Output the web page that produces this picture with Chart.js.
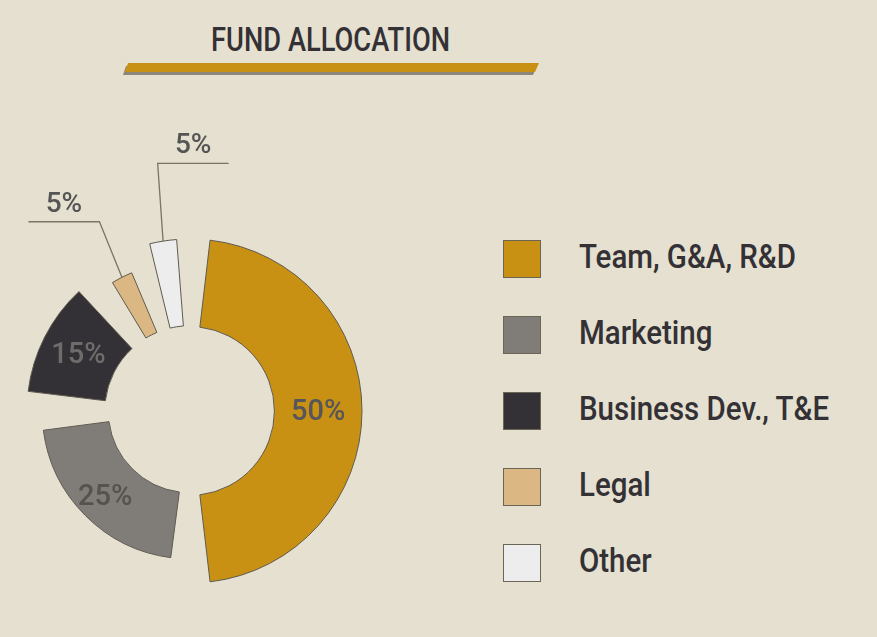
<!DOCTYPE html>
<html>
<head>
<meta charset="utf-8">
<script src="https://cdn.jsdelivr.net/npm/chart.js@4/dist/chart.umd.min.js"></script>
<style>
  html, body { margin:0; padding:0; width:877px; height:637px; background:#E5E0CF; overflow:hidden; }
  #wrap { position:relative; width:877px; height:637px; background:#E5E0CF; }
  .cond { font-family:Roboto,"Liberation Sans",sans-serif; font-weight:500; }
  #title { position:absolute; left:0; top:20px; width:662px; text-align:center; font-size:33px; color:#333135; line-height:40px; }
  #title span { display:inline-block; transform-origin:50% 50%; }
  #barShadow { position:absolute; left:0; top:0; width:877px; height:100px; background:#8C877B;
    clip-path: polygon(126px 66px, 537px 66px, 533px 75px, 123px 75px); }
  #bar { position:absolute; left:0; top:0; width:877px; height:100px; background:#C99114;
    clip-path: polygon(128px 63px, 539px 63px, 535px 72px, 125px 72px); }
  #chartBox { position:absolute; left:0; top:0; width:480px; height:637px; }
  #legend { position:absolute; left:503px; top:240px; }
  .item { display:flex; align-items:center; height:38px; margin-bottom:38px; }
  .box { width:36px; height:36px; border:1px solid #6b6556; flex:none; }
  .lbl { margin-left:38px; font-size:33px; color:#333135; white-space:nowrap; line-height:38px; transform-origin:0 50%; margin-top:-4px; }
</style>
</head>
<body>
<div id="wrap">
  <div id="title" class="cond"><span id="titleText">FUND ALLOCATION</span></div>
  <div id="barShadow"></div>
  <div id="bar"></div>
  <div id="chartBox"><canvas id="c"></canvas></div>
  <div id="legend"></div>
</div>
<script>
// ---- data ----
const categories = ['Team, G&A, R&D', 'Marketing', 'Business Dev., T&E', 'Legal', 'Other'];
const shares = [50, 25, 15, 5, 5];

// ---- style ----
const sliceColors = ['#C99114', '#807C78', '#333135', '#DBB883', '#EDEDED'];
const labelColors = ['#55555A', '#55524F', '#6F6C6B', '#555555', '#555555'];
const outerScale = [1, 0.86, 0.948, 0.872, 1];      // relative to library outer radius
const innerScale = [1, 0.968, 1.01, 1.01, 1.01];     // relative to library inner radius
const sliceGap = [15, 15, 15, 10, 10];               // px trimmed each side at mid radius
const labelMode = ['inside', 'inside', 'inside', 'callout', 'callout'];
const labelRadiusShift = [0, 5, 1, 0, 0];            // px beyond mid radius for inside labels
const leaderLen = [0, 0, 0, 60, 78];
const leaderDir = [0, 0, 0, -1, 1];

// legend (HTML, built from arrays)
const legendEl = document.getElementById('legend');
const lblEls = [];
categories.forEach((c, i) => {
  const it = document.createElement('div'); it.className = 'item';
  const b = document.createElement('div'); b.className = 'box'; b.style.background = sliceColors[i];
  const t = document.createElement('div'); t.className = 'lbl cond'; t.textContent = c;
  it.appendChild(b); it.appendChild(t); legendEl.appendChild(it);
  lblEls.push(t);
});
// condense text to the reference's narrow face
const condense = () => {
  const tt = document.getElementById('titleText');
  const ts = 239 / tt.getBoundingClientRect().width;
  tt.style.transform = 'scaleX(' + ts + ')';
  const ls = 217 / lblEls[0].getBoundingClientRect().width;
  lblEls.forEach(e => { e.style.transform = 'scaleX(' + ls + ')'; });
};
condense();

const sliceGeometry = {
  id: 'sliceGeometry',
  afterDatasetsUpdate(chart) {
    const meta = chart.getDatasetMeta(0);
    meta.data.forEach((el, i) => {
      const outer = el.outerRadius * outerScale[i];
      const inner = el.innerRadius * innerScale[i];
      const mid = (el.startAngle + el.endAngle) / 2;
      const half = (el.endAngle - el.startAngle) / 2 - sliceGap[i] / ((outer + inner) / 2);
      el.outerRadius = outer;
      el.innerRadius = inner;
      el.startAngle = mid - half;
      el.endAngle = mid + half;
      el.circumference = 2 * half;
    });
  }
};

const sliceLabels = {
  id: 'sliceLabels',
  afterDatasetsDraw(chart) {
    const ctx = chart.ctx;
    const meta = chart.getDatasetMeta(0);
    ctx.save();
    ctx.textAlign = 'center';
    ctx.textBaseline = 'middle';
    meta.data.forEach((el, i) => {
      const text = shares[i] + '%';
      ctx.fillStyle = labelColors[i];
      const mid = (el.startAngle + el.endAngle) / 2;
      if (labelMode[i] === 'inside') {
        ctx.font = '500 29px Roboto';
        const p = el.tooltipPosition();
        ctx.fillText(text, p.x + Math.cos(mid) * labelRadiusShift[i], p.y + Math.sin(mid) * labelRadiusShift[i] + 2);
      } else {
        ctx.font = '500 28px Roboto';
        const x0 = el.x + Math.cos(mid) * el.outerRadius;
        const y0 = el.y + Math.sin(mid) * el.outerRadius;
        const a = mid + 5 * Math.PI / 180;
        const x1 = x0 + Math.cos(a) * leaderLen[i];
        const y1 = y0 + Math.sin(a) * leaderLen[i];
        const x2 = x1 + leaderDir[i] * 71;
        ctx.strokeStyle = '#7A7466';
        ctx.lineWidth = 1.3;
        ctx.beginPath();
        ctx.moveTo(x0, y0); ctx.lineTo(x1, y1); ctx.lineTo(x2, y1);
        ctx.stroke();
        ctx.fillText(text, (x1 + x2) / 2, y1 - 17);
      }
    });
    ctx.restore();
  }
};

new Chart(document.getElementById('c'), {
  type: 'doughnut',
  data: {
    labels: categories,
    datasets: [{
      data: shares,
      backgroundColor: sliceColors,
      borderColor: '#5E5A50',
      borderWidth: 1,
      radius: 172,
      cutout: 93
    }]
  },
  options: {
    responsive: true,
    maintainAspectRatio: false,
    animation: false,
    layout: { padding: { left: 0, right: 100, top: 190, bottom: 5 } },
    plugins: { legend: { display: false }, tooltip: { enabled: false } },
    events: []
  },
  plugins: [sliceGeometry, sliceLabels]
});
</script>
</body>
</html>
